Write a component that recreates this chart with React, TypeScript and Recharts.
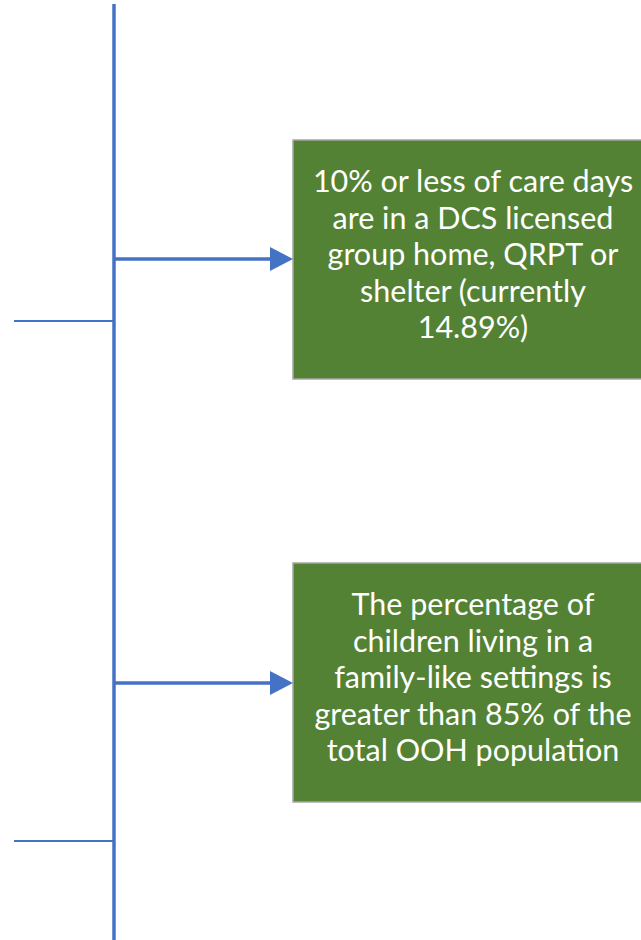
import React from 'react';
import { ComposedChart, XAxis, YAxis, ReferenceLine, ReferenceArea, Scatter } from 'recharts';

const W = 641;
const H = 940;

// Diagram geometry (data space = pixel space)
const spine = { x: 114, y1: 4, y2: 940 };
const branchesIn = [
  { y: 321, x1: 14, x2: 114 },
  { y: 841, x1: 14, x2: 114 },
];
const arrows = [
  { y: 259, x1: 114, x2: 272, tip: 293 },
  { y: 683, x1: 114, x2: 272, tip: 293 },
];
const boxes = [
  {
    x1: 293, x2: 653, y1: 140, y2: 379,
    lines: ['10% or less of care days', 'are in a DCS licensed', 'group home, QRPT or', 'shelter (currently', '14.89%)'],
  },
  {
    x1: 293, x2: 653, y1: 563, y2: 802,
    lines: ['The percentage of', 'children living in a', 'family-like settings is', 'greater than 85% of the', 'total OOH population'],
  },
];

const BLUE = '#4472C4';
const GREEN = '#548235';

const arrowHeads = arrows.map((a) => ({ x: a.tip, y: a.y }));

const Triangle = (props: any) => {
  const { cx, cy } = props;
  if (cx == null || cy == null) return null;
  const p = `${cx},${cy} ${cx - 23},${cy - 12} ${cx - 23},${cy + 12}`;
  return <polygon points={p} fill={BLUE} />;
};

const makeLabel = (lines: string[]) => (props: any) => {
  const vb = props.viewBox || {};
  const cx = vb.x + vb.width / 2;
  const cy = vb.y + vb.height / 2 - 6.5;
  const lh = 36.5;
  return (
    <text
      textAnchor="middle"
      fill="#ffffff"
      fontFamily="Lato, 'Open Sans', sans-serif"
      fontSize={30.5}
    >
      {lines.map((t, i) => (
        <tspan key={i} x={cx} y={cy + (i - (lines.length - 1) / 2) * lh} dominantBaseline="central">
          {t}
        </tspan>
      ))}
    </text>
  );
};

export default function App() {
  return (
    <div style={{ position: 'absolute', left: 0, top: 0, width: W, height: H, background: '#fff', overflow: 'hidden' }}>
      <ComposedChart width={W} height={H} margin={{ top: 0, right: 0, bottom: 0, left: 0 }} data={arrowHeads}>
        <XAxis type="number" dataKey="x" domain={[0, W]} hide allowDataOverflow />
        <YAxis type="number" dataKey="y" domain={[0, H]} reversed hide allowDataOverflow />
        {boxes.map((b, i) => (
          <ReferenceArea
            key={'b' + i}
            x1={b.x1}
            x2={b.x2}
            y1={b.y1}
            y2={b.y2}
            ifOverflow="visible"
            fill={GREEN}
            fillOpacity={1}
            stroke="#A6A6A6"
            strokeWidth={1.5}
            label={makeLabel(b.lines)}
          />
        ))}
        <ReferenceLine
          segment={[{ x: spine.x, y: spine.y1 }, { x: spine.x, y: spine.y2 }]}
          stroke={BLUE}
          strokeWidth={3.5}
          ifOverflow="visible"
        />
        {branchesIn.map((b, i) => (
          <ReferenceLine
            key={'l' + i}
            segment={[{ x: b.x1, y: b.y }, { x: b.x2, y: b.y }]}
            stroke={BLUE}
            strokeWidth={2}
            ifOverflow="visible"
          />
        ))}
        {arrows.map((a, i) => (
          <ReferenceLine
            key={'a' + i}
            segment={[{ x: a.x1, y: a.y }, { x: a.x2, y: a.y }]}
            stroke={BLUE}
            strokeWidth={3.5}
            ifOverflow="visible"
          />
        ))}
        <Scatter data={arrowHeads} dataKey="y" shape={<Triangle />} isAnimationActive={false} />
      </ComposedChart>
    </div>
  );
}
